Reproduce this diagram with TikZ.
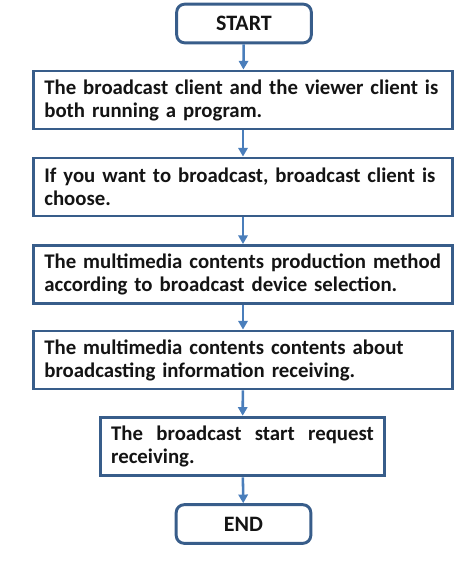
\documentclass[tikz,border=0pt]{standalone}
\usepackage{fontspec}
\setmainfont{Carlito}
\usetikzlibrary{
  arrows.meta,
  positioning
}
\definecolor{BoxBlue}{RGB}{56,93,138}
\definecolor{FlowBlue}{RGB}{74,126,187}
\definecolor{InkBlack}{RGB}{20,20,20}
\tikzset{
  stepbox/.style={
    draw=BoxBlue,
    line width=2.2pt,
    fill=white,
    text=InkBlack,
    font=\bfseries\fontsize{15.6}{17.3}\selectfont,
    align=left,
    inner xsep=8pt,
    inner ysep=3pt
  },
  termbox/.style={stepbox,rounded corners=6pt,align=center,
    font=\bfseries\fontsize{16.5}{18}\selectfont,
    minimum width=101pt,minimum height=29pt},
  wideline/.style={stepbox,text width=298pt,minimum height=43.5pt},
  flow/.style={-{Triangle[length=6.5pt,width=7pt]},line width=1.9pt,draw=FlowBlue}
}
\begin{document}
\begin{tikzpicture}[x=0.75pt,y=-0.75pt]
  \useasboundingbox (0,0) rectangle (460,567);

  \node[termbox] (start) at (244,23.5) {START};
  \node[wideline] (client) at (243,100)
    {The broadcast client and the viewer client is\\both running a program.};
  \node[wideline] (choose) at (243,187)
    {If you want to broadcast, broadcast client is\\choose.};
  \node[wideline] (method) at (243,274.5)
    {The multimedia contents production method\\according to broadcast device selection.};
  \node[wideline] (info) at (243,360)
    {The multimedia contents contents about\\broadcasting information receiving.};
  \node[stepbox,text width=197pt,minimum height=44pt,align=justify] (request) at (242.5,446.5)
    {The broadcast start request\linebreak receiving.};
  \node[termbox] (end) at (243.5,524) {END};

  \draw[flow] (start) -- (client);
  \draw[flow] (client) -- (choose);
  \draw[flow] (choose) -- (method);
  \draw[flow] (method) -- (info);
  \draw[flow] (info) -- (request);
  \draw[flow] (request) -- (end);
\end{tikzpicture}
\end{document}
